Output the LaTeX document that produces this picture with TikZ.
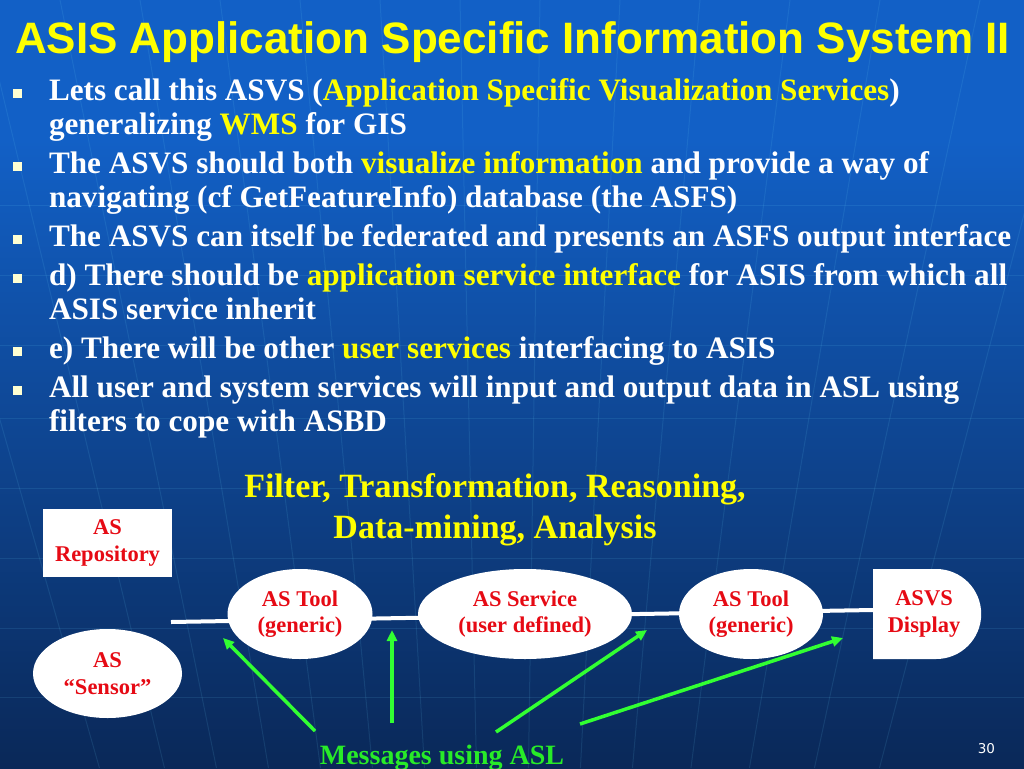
\documentclass[tikz,border=0pt]{standalone}
\usepackage{fontspec}
\setmainfont{Liberation Serif}
\newfontfamily\titlefont{Liberation Sans}
\newfontfamily\numfont{DejaVu Sans}
\usetikzlibrary{shapes.geometric,shapes.misc,arrows.meta,backgrounds,positioning}

\definecolor{bluAlto}{RGB}{18,96,198}
\definecolor{bluBasso}{RGB}{10,40,88}
\definecolor{giallo}{RGB}{255,255,0}
\definecolor{rosso}{RGB}{230,10,20}
\definecolor{verde}{RGB}{40,235,40}
\definecolor{verdeFreccia}{RGB}{50,255,50}
\definecolor{crema}{RGB}{255,255,210}

% evidenziazione gialla nel testo
\newcommand{\evid}[1]{\textcolor{giallo}{#1}}

\begin{document}
\begin{tikzpicture}[
    x=1pt, y=-1pt,
    every node/.style={inner sep=0pt, outer sep=0pt},
    % Stile del titolo della slide
    titolo/.style={font=\titlefont\bfseries\fontsize{44}{48}\selectfont, text=giallo, anchor=base west},
    % Stile per le righe dell'elenco puntato
    riga/.style={font=\bfseries\fontsize{31.2}{34}\selectfont, text=white, anchor=base west},
    % Stile per i quadratini dei punti
    punto/.style={fill=crema, minimum size=9pt},
    % Stile per la didascalia gialla del diagramma
    didascalia/.style={font=\bfseries\fontsize{34}{41}\selectfont, text=giallo, align=center},
    % Stile per i blocchi bianchi con testo rosso
    blocco/.style={fill=white, text=rosso, align=center, font=\bfseries\fontsize{22.5}{26.5}\selectfont},
    ovale/.style={blocco, ellipse, minimum height=90pt},
    % Connettori
    linea/.style={draw=white, line width=4pt},
    freccia/.style={draw=verdeFreccia, line width=3.5pt, -{Triangle[length=11pt,width=10pt]}},
    messaggio/.style={font=\bfseries\fontsize{28}{30}\selectfont, text=verde, anchor=base},
    numero/.style={font=\numfont\fontsize{13.5}{15}\selectfont, text=white, anchor=base east},
    griglia/.style={draw=cyan!60!white, line width=1pt, opacity=0.12}
]
\useasboundingbox (0,0) rectangle (1024,768);

% --- SFONDO ---
\begin{pgfonlayer}{background}
  \fill[bluAlto] (0,0) rectangle (1024,140);
  \shade[top color=bluAlto, bottom color=bluBasso] (0,140) rectangle (1024,768);
  \begin{scope}
    \clip (0,0) rectangle (1024,768);
    \foreach \yy in {205,275,345,418,488,558,628,697}
      \draw[griglia] (0,\yy) -- (1024,\yy);
    \foreach \xx in {-120,-20,60,140,220,300,380,460,540,620,700,790,880,980,1080}
      \draw[griglia] (\xx,0) -- ({\xx+(507-\xx)*0.35},768);
  \end{scope}
\end{pgfonlayer}

% --- TITOLO ---
\node[titolo] (titolo) at (15,54) {ASIS Application Specific Information System II};

% --- ELENCO PUNTATO ---
% 1. ASVS
\node[punto] (p1) at (17,93) {};
\node[riga] (r1a) at (49,100) {Lets call this ASVS (\evid{Application Specific Visualization Services})};
\node[riga] (r1b) at (49,134) {generalizing \evid{WMS} for GIS};
% 2. visualizzazione
\node[punto] (p2) at (17,166) {};
\node[riga] (r2a) at (49,173) {The ASVS should both \evid{visualize information} and provide a way of};
\node[riga] (r2b) at (49,207) {navigating (cf GetFeatureInfo) database (the ASFS)};
% 3. federazione
\node[punto] (p3) at (17,239) {};
\node[riga] (r3a) at (49,246) {The ASVS can itself be federated and presents an ASFS output interface};
% 4. interfaccia di servizio
\node[punto] (p4) at (17,278) {};
\node[riga] (r4a) at (49,285) {d) There should be \evid{application service interface} for ASIS from which all};
\node[riga] (r4b) at (49,319) {ASIS service inherit};
% 5. servizi utente
\node[punto] (p5) at (17,351) {};
\node[riga] (r5a) at (49,358) {e) There will be other \evid{user services} interfacing to ASIS};
% 6. ASL
\node[punto] (p6) at (17,390) {};
\node[riga] (r6a) at (49,397) {All user and system services will input and output data in ASL using};
\node[riga] (r6b) at (49,431) {filters to cope with ASBD};

% --- DIAGRAMMA ---
\node[didascalia] (didas) at (495,510) {Filter, Transformation, Reasoning,\\Data-mining, Analysis};

\node[blocco, minimum width=129pt, minimum height=68pt] (repo) at (107.5,543) {AS\\Repository};
\node[ovale, minimum width=149pt, minimum height=89pt] (sensore) at (107.5,673.5) {AS\\“Sensor”};

\node[ovale, minimum width=145pt] (tool1) at (300,614) {AS Tool\\(generic)};
\node[ovale, minimum width=214pt] (servizio) at (525,614) {AS Service\\(user defined)};
\node[ovale, minimum width=144pt] (tool2) at (751,614) {AS Tool\\(generic)};
\node[blocco, rounded rectangle, rounded rectangle left arc=none,
      minimum width=108pt, minimum height=90pt] (asvs) at (924,614) {ASVS\\Display};

% linea di collegamento (dietro ai blocchi)
\coordinate (inizio) at (171,622);
\begin{pgfonlayer}{background}
  \draw[linea] (inizio) -- ([yshift=4pt]asvs.west);
\end{pgfonlayer}

% --- MESSAGGI ASL ---
\node[messaggio] (msg) at (442,764) {Messages using ASL};

\coordinate (m1) at (315,731);  \coordinate (h1) at (223,638);
\coordinate (m2) at (392,723);  \coordinate (h2) at (392,630);
\coordinate (m3) at (496,732);  \coordinate (h3) at (647,630);
\coordinate (m4) at (580,724);  \coordinate (h4) at (843,638);
\draw[freccia] (m1) -- (h1);
\draw[freccia] (m2) -- (h2);
\draw[freccia] (m3) -- (h3);
\draw[freccia] (m4) -- (h4);

\node[numero] (pagina) at (995,753) {30};

\end{tikzpicture}
\end{document}
